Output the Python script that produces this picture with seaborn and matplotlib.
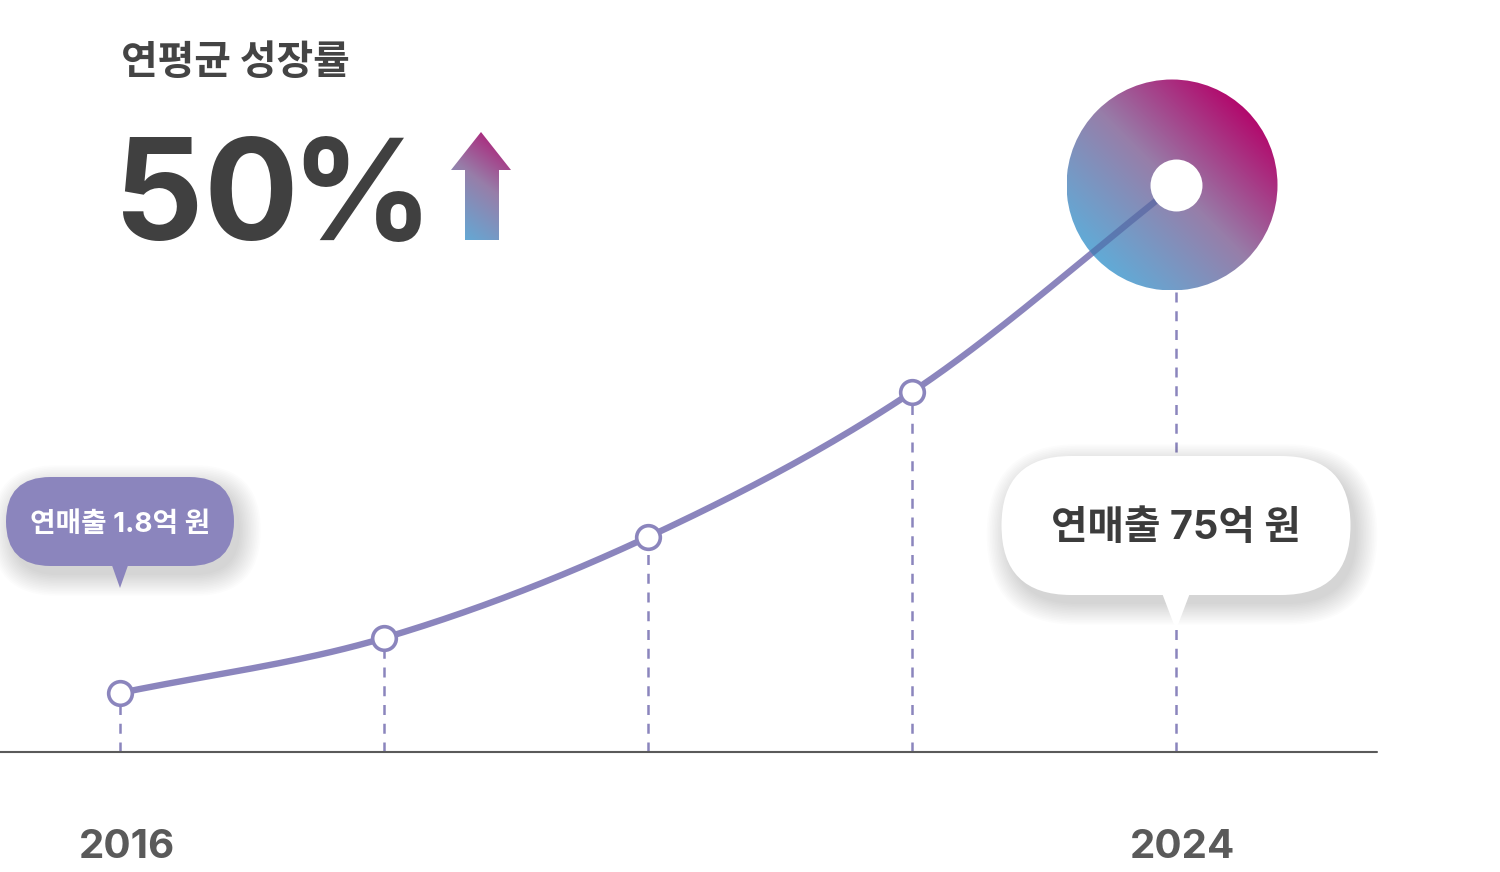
import numpy as np
import matplotlib.pyplot as plt
import seaborn as sns
from matplotlib.colors import LinearSegmentedColormap
from matplotlib.patches import Circle, FancyBboxPatch, Polygon
from matplotlib.transforms import ScaledTranslation

# ── data ──
years = [2016, 2018, 2020, 2022, 2024]
level = [59, 114, 215, 360, 567]          # height of each point above the baseline
year_labels = ['2016', '', '', '', '2024']
title = '연평균 성장률'
growth = '50%'
first_label = '연매출 1.8억 원'
last_label = '연매출 75억 원'

PURPLE = '#8b85bd'
grad_cmap = LinearSegmentedColormap.from_list('grad', ['#62aad6', '#977ea9', '#b20a6d'])

sns.set_theme(style='white')
plt.rcParams['font.family'] = ['Inter', 'Noto Sans CJK KR', 'DejaVu Sans']
KR = ['Noto Sans CJK KR', 'DejaVu Sans']

DPI = 100
fig = plt.figure(figsize=(15, 8.72), dpi=DPI)
ax = fig.add_axes([0, 0, 1, 1])
ax.set_axis_off()
# 1 year = 132 px, 1 level unit = 1 px
XLIM = (2016 - 120 / 132, 2016 + 1380 / 132)
YLIM = (-120, 752)
ax.set_xlim(*XLIM)
ax.set_ylim(*YLIM)


def anchored(x, y):
    # inches, with the origin sitting on a data point
    return fig.dpi_scale_trans + ScaledTranslation(x, y, ax.transData)


def smooth(xs, ys, n=40):
    # Catmull-Rom curve through the points, only for drawing the line
    P = np.column_stack([xs, ys]).astype(float)
    P = np.vstack([2 * P[0] - P[1], P, 2 * P[-1] - P[-2]])
    t = np.linspace(0, 1, n, endpoint=False)
    out = []
    for i in range(1, len(P) - 2):
        p0, p1, p2, p3 = P[i - 1], P[i], P[i + 1], P[i + 2]
        seg = 0.5 * (2 * p1[None] + np.outer(t, p2 - p0)
                     + np.outer(t ** 2, 2 * p0 - 5 * p1 + 4 * p2 - p3)
                     + np.outer(t ** 3, -p0 + 3 * p1 - 3 * p2 + p3))
        out.append(seg)
    out.append(P[-2][None])
    return np.vstack(out)


def bubble(x, y, lift, w, h, tail_w, tail_h, face, text, tcolor, fs):
    tr = anchored(x, y)
    base = lift + tail_h
    # soft shadow
    for k in range(14):
        pad = k * 1.6
        ax.add_patch(FancyBboxPatch(
            ((-w / 2 - pad + 6) / DPI, (base - pad - 9) / DPI),
            (w + 2 * pad) / DPI, (h + 2 * pad) / DPI,
            boxstyle=f'round,pad=0,rounding_size={(h / 2 + pad) / DPI}',
            transform=tr, fc='black', ec='none', alpha=0.010, zorder=3))
    ax.add_patch(FancyBboxPatch(
        (-w / 2 / DPI, base / DPI), w / DPI, h / DPI,
        boxstyle=f'round,pad=0,rounding_size={h / 2 / DPI}',
        transform=tr, fc=face, ec='none', zorder=3.2))
    ax.add_patch(Polygon([(-tail_w / 2 / DPI, (base + 2) / DPI),
                          (tail_w / 2 / DPI, (base + 2) / DPI),
                          (0, lift / DPI)],
                         closed=True, transform=tr, fc=face, ec='none', zorder=3.2))
    ax.text(0, (base + h / 2 - 3) / DPI, text, transform=tr, ha='center', va='center',
            fontsize=fs, fontweight='bold', color=tcolor, zorder=3.4)


# baseline + dashed drops
ax.axhline(0, xmin=0, xmax=1377 / 1500, color='#5a5a5a', lw=1.5, zorder=2)
ax.vlines(years, 0, level, colors=PURPLE, linestyles=(0, (4, 3.5)), lw=1.8, zorder=1)

# year labels
for x, lab in zip(years, year_labels):
    if lab:
        ax.text(x + 0.05, -106, lab, ha='center', va='baseline', fontsize=29,
                fontweight='bold', color='#5a5a5a')

# growth line
curve = smooth(years, level)
sns.lineplot(x=curve[:, 0], y=curve[:, 1], ax=ax, color=PURPLE, lw=4.6,
             sort=False, estimator=None, zorder=4)

# big gradient disc on the last point
tr_last = anchored(years[-1], level[-1])
R = 105.5 / DPI
disc = Circle((-4 / DPI, 0), R, transform=tr_last)
u, v = np.meshgrid(np.linspace(0, 1, 256), np.linspace(0, 1, 256))
ax.imshow((u + v) / 2, extent=(-R - 4 / DPI, R - 4 / DPI, -R, R), transform=tr_last,
          origin='lower', cmap=grad_cmap, vmin=0.15, vmax=0.85, aspect='auto',
          clip_path=disc, zorder=5, interpolation='bilinear')
over, = ax.plot(curve[:, 0], curve[:, 1], color='#4a5a9c', alpha=0.55, lw=4.6, zorder=6)
over.set_clip_path(disc)

# point markers
sns.scatterplot(x=years[:-1], y=level[:-1], ax=ax, s=290, color='white',
                edgecolor=PURPLE, linewidth=2.6, zorder=8)
sns.scatterplot(x=years[-1:], y=level[-1:], ax=ax, s=1400, color='white',
                linewidth=0, zorder=8)

# call-out bubbles
bubble(years[0], level[0], 105, 228, 89, 17, 22, PURPLE, first_label, 'white', 20)
bubble(years[-1], 0, 122, 349, 139, 28, 35, 'white', last_label, '#3c3c3c', 28.6)

# headline
fig.text(121 / 1500, 1 - 62 / 872, title, ha='left', va='center', fontsize=28.7,
         fontweight='bold', color='#444444', family=KR)
# big figure, set glyph by glyph for the tight tracking
for ch, gx in zip(growth, [114, 203, 290]):
    fig.text(gx / 1500, 1 - 240 / 872, ch, ha='left', va='baseline', fontsize=101,
             fontweight='bold', color='#404040')

# gradient up arrow
ft = fig.dpi_scale_trans
def pin(x, y):
    return (x / DPI, (872 - y) / DPI)
arrow = Polygon([pin(481, 132), pin(511, 170), pin(499, 170), pin(499, 240),
                 pin(465, 240), pin(465, 170), pin(451, 170)], closed=True, transform=ft)
x0, y0 = pin(451, 240)
x1, y1 = pin(511, 132)
ax.imshow(0.3 * u + 0.7 * v, extent=(x0, x1, y0, y1), transform=ft, origin='lower',
          cmap=grad_cmap, vmin=0.05, vmax=1.0, aspect='auto', clip_path=arrow,
          zorder=5, interpolation='bilinear')

ax.set_xlim(*XLIM)
ax.set_ylim(*YLIM)
fig.savefig('out.png', dpi=DPI)
